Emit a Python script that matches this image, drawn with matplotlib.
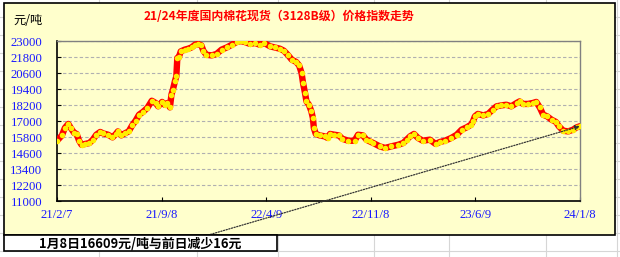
import matplotlib
matplotlib.use("Agg")
import matplotlib.pyplot as plt
from matplotlib.patches import Rectangle
from matplotlib.lines import Line2D
import numpy as np

plt.rcParams['font.family'] = ['Noto Sans CJK SC', 'DejaVu Sans']

title = "21/24年度国内棉花现货（3128B级）价格指数走势"
unit_label = "元/吨"
note_text = "1月8日16609元/吨与前日减少16元"

dates = [
    "2021-02-07", "2021-02-17", "2021-02-23", "2021-03-02", "2021-03-07", "2021-03-14",
    "2021-03-19", "2021-03-24", "2021-03-29", "2021-04-05", "2021-04-14", "2021-04-21",
    "2021-04-28", "2021-05-06", "2021-05-12", "2021-05-22", "2021-05-31", "2021-06-07",
    "2021-06-11", "2021-06-18", "2021-06-25", "2021-07-03", "2021-07-10", "2021-07-17",
    "2021-07-24", "2021-08-01", "2021-08-10", "2021-08-19", "2021-08-27", "2021-09-01",
    "2021-09-09", "2021-09-14", "2021-09-20", "2021-09-25", "2021-09-28", "2021-10-01",
    "2021-10-05", "2021-10-08", "2021-10-10", "2021-10-13", "2021-10-17", "2021-10-25",
    "2021-11-01", "2021-11-08", "2021-11-15", "2021-11-21", "2021-11-28", "2021-12-02",
    "2021-12-08", "2021-12-19", "2021-12-29", "2022-01-08", "2022-01-19", "2022-01-29",
    "2022-02-08", "2022-02-16", "2022-02-24", "2022-03-07", "2022-03-17", "2022-03-27",
    "2022-04-05", "2022-04-17", "2022-04-26", "2022-05-07", "2022-05-15", "2022-05-24",
    "2022-05-31", "2022-06-09", "2022-06-15", "2022-06-20", "2022-06-23", "2022-06-27",
    "2022-06-30", "2022-07-05", "2022-07-10", "2022-07-13", "2022-07-15", "2022-07-19",
    "2022-07-27", "2022-08-06", "2022-08-12", "2022-08-17", "2022-08-26", "2022-09-04",
    "2022-09-11", "2022-09-23", "2022-10-06", "2022-10-13", "2022-10-23", "2022-10-30",
    "2022-11-06", "2022-11-13", "2022-11-26", "2022-12-07", "2022-12-20", "2023-01-03",
    "2023-01-13", "2023-01-20", "2023-01-27", "2023-02-04", "2023-02-12", "2023-02-22",
    "2023-03-08", "2023-03-20", "2023-03-29", "2023-04-08", "2023-04-21", "2023-05-02",
    "2023-05-12", "2023-05-22", "2023-05-31", "2023-06-04", "2023-06-08", "2023-06-14",
    "2023-06-25", "2023-07-05", "2023-07-14", "2023-07-22", "2023-08-01", "2023-08-11",
    "2023-08-21", "2023-09-01", "2023-09-07", "2023-09-14", "2023-09-24", "2023-10-04",
    "2023-10-11", "2023-10-18", "2023-10-25", "2023-11-02", "2023-11-11", "2023-11-20",
    "2023-11-26", "2023-12-05", "2023-12-15", "2023-12-25", "2024-01-01", "2024-01-08",
]
prices = [
    15520, 15920, 16480, 16780, 16480, 16100,
    16030, 15520, 15220, 15280, 15350, 15600,
    15970, 16180, 16070, 15970, 15770, 16030,
    16220, 15920, 16070, 16220, 16670, 17020,
    17470, 17680, 17980, 18520, 18350, 18100,
    18430, 18220, 18350, 18020, 18970, 19350,
    19970, 20350, 21730, 21770, 22220, 22350,
    22420, 22520, 22720, 22780, 22670, 22270,
    21970, 21920, 22030, 22350, 22520, 22720,
    22930, 22990, 22930, 22780, 22850, 22720,
    22850, 22600, 22520, 22420, 22270, 21920,
    21600, 21430, 21170, 20600, 19850, 19100,
    18470, 18220, 17720, 17230, 16480, 16030,
    15920, 15850, 15730, 16030, 15970, 15920,
    15670, 15520, 15520, 15970, 15920, 15600,
    15470, 15350, 15100, 14980, 15100, 15220,
    15350, 15600, 15850, 16030, 15730, 15520,
    15600, 15280, 15430, 15520, 15730, 15970,
    16350, 16520, 16720, 16970, 17350, 17530,
    17420, 17530, 17850, 18100, 18170, 18220,
    18100, 18350, 18470, 18280, 18280, 18350,
    18430, 18020, 17470, 17350, 17100, 16930,
    16600, 16270, 16220, 16350, 16520, 16609,
]
tick_dates = ["2021-02-07", "2021-09-08", "2022-04-09", "2022-11-08", "2023-06-09", "2024-01-08"]
tick_labels = ["21/2/7", "21/9/8", "22/4/9", "22/11/8", "23/6/9", "24/1/8"]
y_ticks = [11000, 12200, 13400, 14600, 15800, 17000, 18200, 19400, 20600, 21800, 23000]

W, H = 620, 257
fig = plt.figure(figsize=(W / 100, H / 100), dpi=100)
fig.patch.set_facecolor("white")

def fx(px):
    return px / W

def fy(py):
    return 1 - py / H

# spreadsheet grid in background
grid_c = "#d6d6d6"
for gx in [99, 197, 278, 374, 449, 546, 617]:
    fig.add_artist(Line2D([fx(gx), fx(gx)], [0, 1], color=grid_c, lw=0.8, zorder=-3))
for gy in range(17, 257, 18):
    fig.add_artist(Line2D([0, 1], [fy(gy), fy(gy)], color=grid_c, lw=0.8, zorder=-3))

# chart area
fig.add_artist(Rectangle((fx(4), fy(235)), fx(611), 232 / H, facecolor="#FFFFCC",
                         edgecolor="black", lw=1.2, zorder=-1))
# note box
fig.add_artist(Rectangle((fx(4), fy(251)), fx(273), 16 / H, facecolor="white",
                         edgecolor="black", lw=1.2, zorder=2))
fig.text(fx(140), fy(243.5), note_text, ha="center", va="center", fontsize=9.3,
         fontweight="bold", color="black", zorder=3)

fig.text(fx(279), fy(17), title, ha="center", va="center", fontsize=8.6,
         fontweight="bold", color="#FF0000")
fig.text(fx(13), fy(20), unit_label, ha="left", va="center", fontsize=8.8, color="black")

ax = fig.add_axes([fx(57), fy(201), fx(523), 160 / H])
ax.set_facecolor("#FFFFCC")

x = np.array(dates, dtype="datetime64[D]")
ax.plot(x, prices, color="#FF0000", lw=4.6, solid_joinstyle="round",
        solid_capstyle="round", zorder=3)
ax.plot(x, prices, linestyle="none", marker="o", markersize=4.0, markerfacecolor="#FFEE00",
        markeredgewidth=0, zorder=4)

ax.set_ylim(11000, 23000)
ax.set_yticks(y_ticks)
ax.set_yticklabels([str(v) for v in y_ticks], family="Liberation Serif", fontsize=9.2,
                   color="#1a1aff")
ax.yaxis.grid(True, linestyle=(0, (3, 2)), color="#b0b0b0", lw=0.8)
ax.set_axisbelow(True)

tx = np.array(tick_dates, dtype="datetime64[D]")
ax.set_xlim(tx[0], tx[-1])
ax.set_xticks(tx)
ax.set_xticklabels(tick_labels, family="Liberation Serif", fontsize=9.2, color="#1a1aff")
ax.tick_params(axis="x", direction="in", length=3, pad=6, colors="black", labelcolor="#1a1aff")
ax.tick_params(axis="y", direction="in", length=3, pad=10.5, colors="black", labelcolor="#1a1aff")

for s in ["left", "bottom"]:
    ax.spines[s].set_color("black")
    ax.spines[s].set_linewidth(1.2)
for s in ["top", "right"]:
    ax.spines[s].set_color("#808080")
    ax.spines[s].set_linewidth(1.0)

ax.annotate("", xy=(x[-1], prices[-1]), xycoords="data",
            xytext=(205, H - 236), textcoords="figure pixels",
            arrowprops=dict(arrowstyle="-|>", linestyle=(0, (1, 1.2)), color="#333333",
                            lw=0.9, mutation_scale=7, shrinkA=0, shrinkB=0),
            annotation_clip=False, zorder=5)

fig.savefig("out.png", dpi=100)
